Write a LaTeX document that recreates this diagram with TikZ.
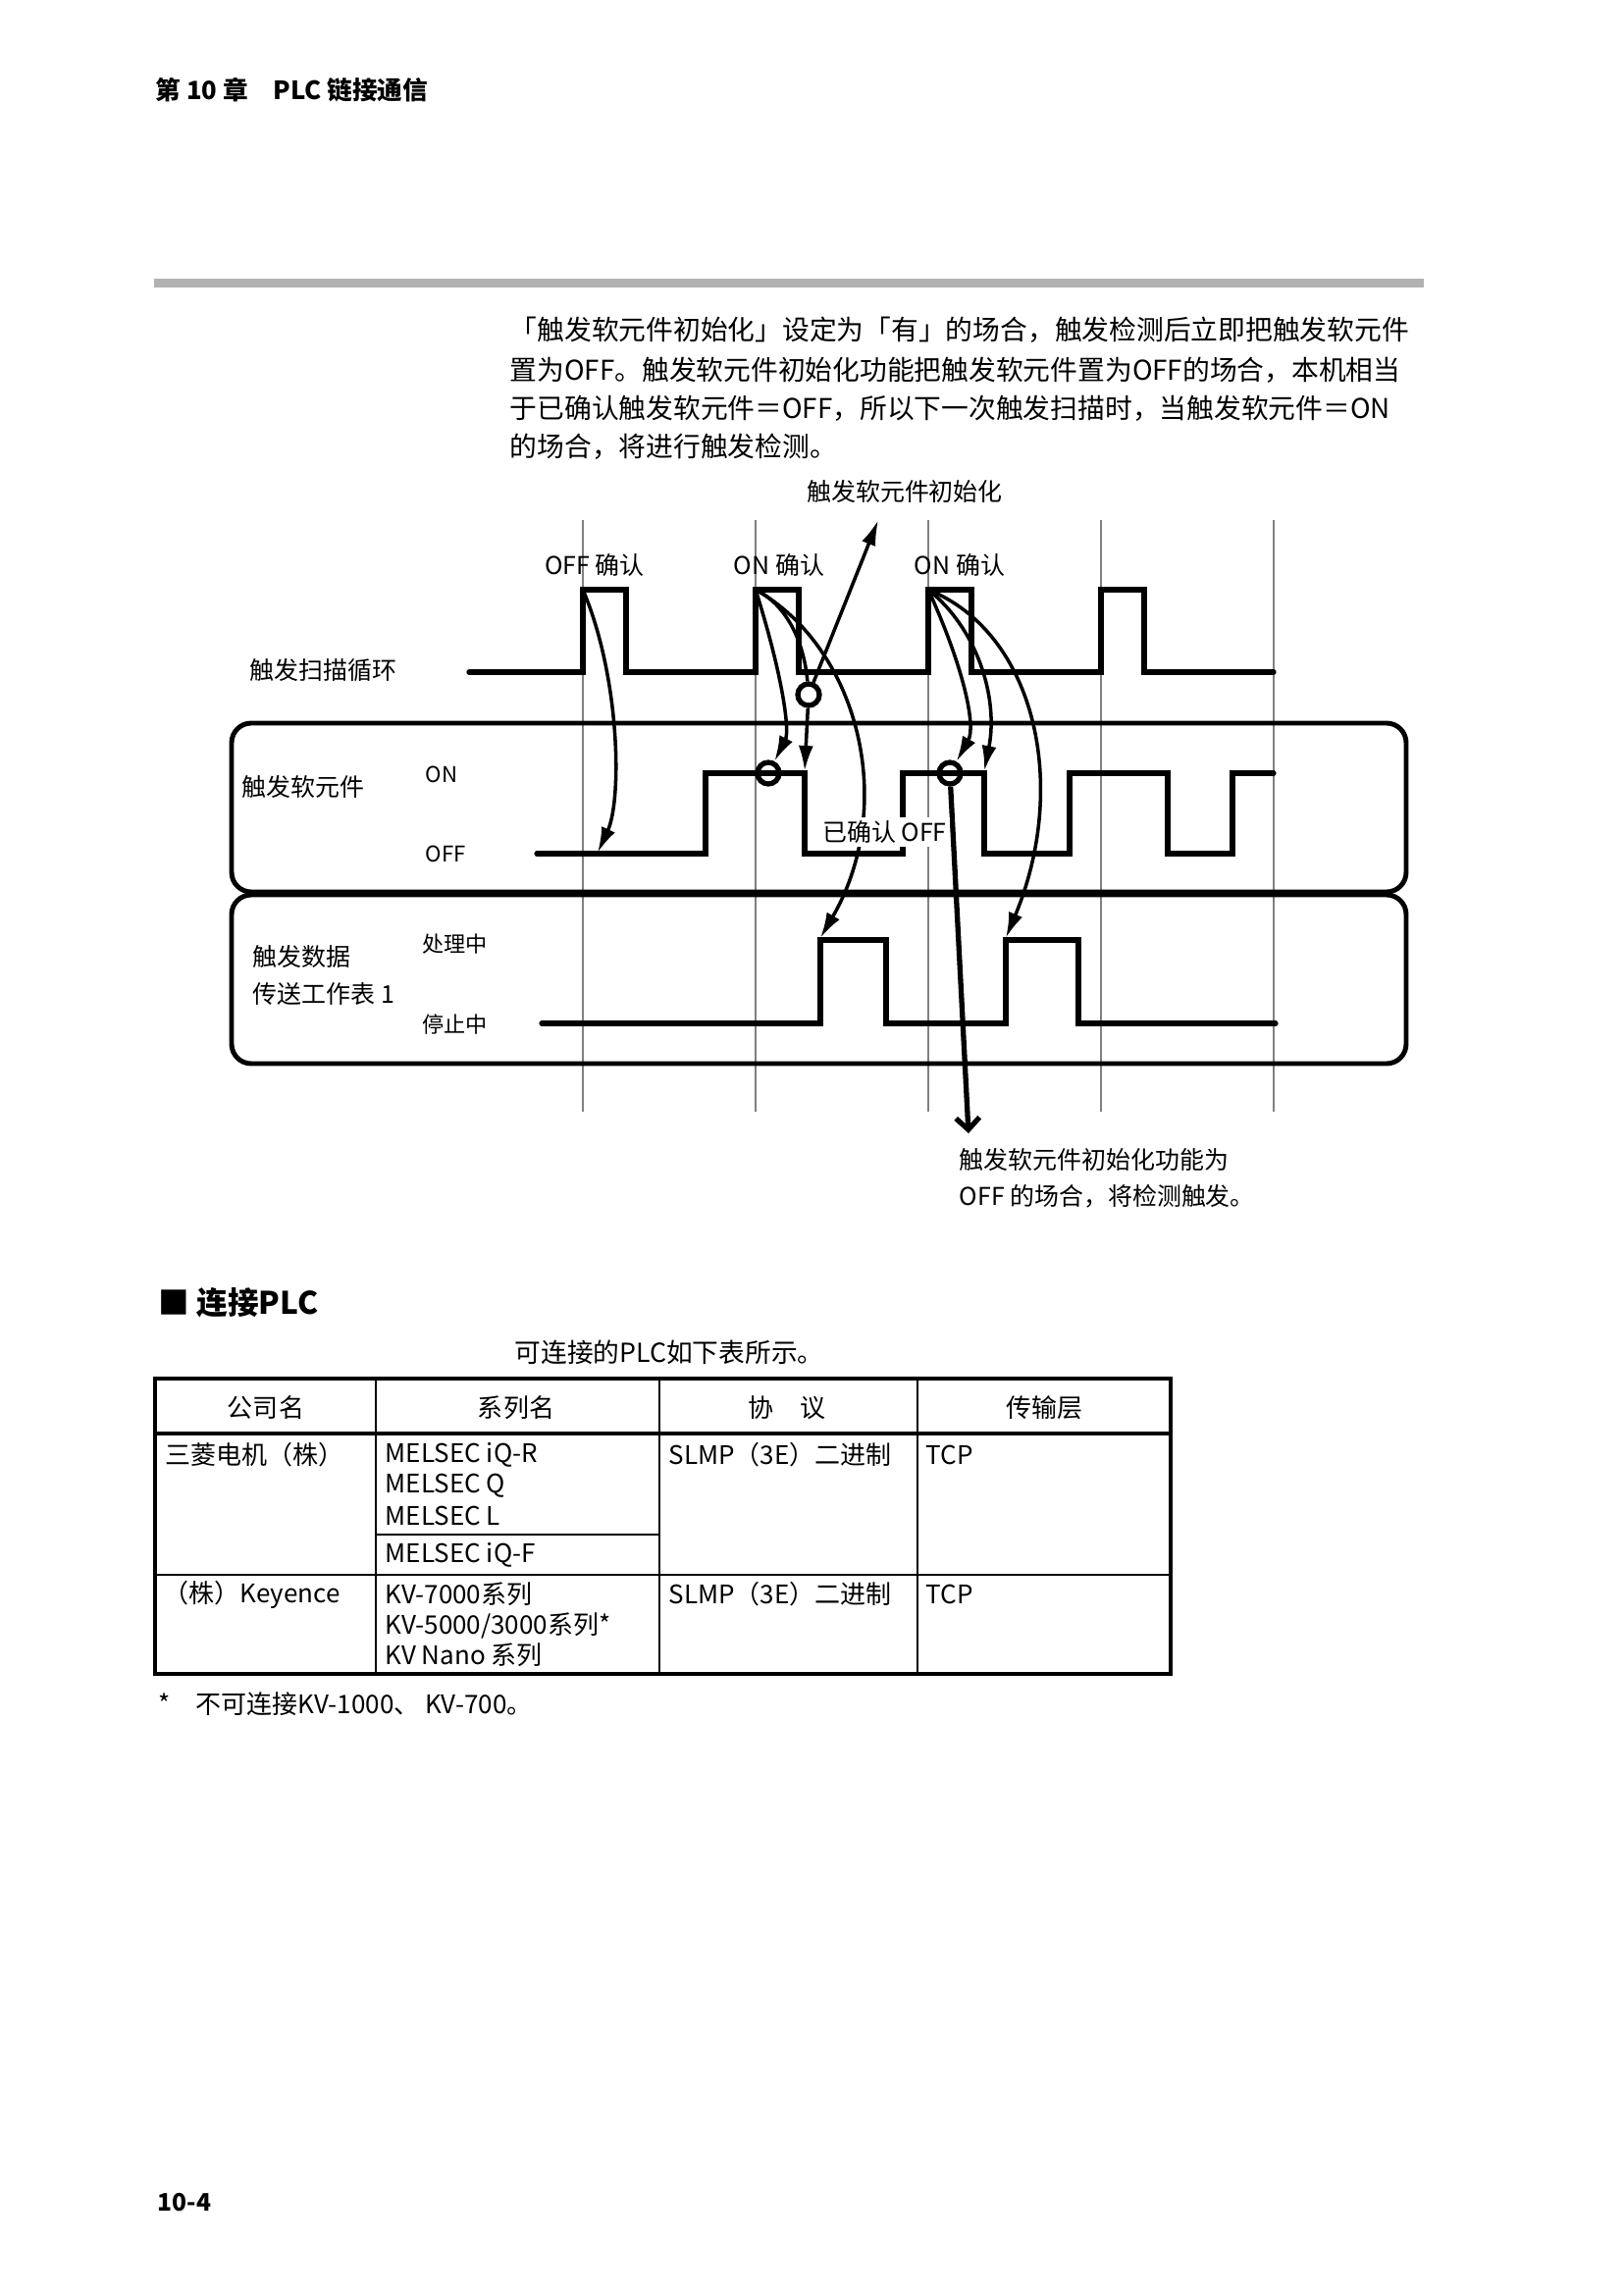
\documentclass[tikz,border=0pt]{standalone}
\usepackage{fontspec}
\setmainfont{Noto Sans CJK SC}
\usepackage{tikz}
\usetikzlibrary{positioning,arrows.meta}

\tikzset{
  lbl/.style={inner sep=0pt, font=\fontsize{7.1}{8.5}\selectfont},
  levellbl/.style={inner sep=0pt, anchor=west, font=\fontsize{6.3}{7.5}\selectfont},
  txt/.style={inner sep=0pt, anchor=west, font=\fontsize{7.9}{10}\selectfont},
  cell/.style={inner sep=0pt, font=\fontsize{7.4}{8.5}\selectfont},
  sig/.style={line width=1.5pt, line cap=round},
  lanebox/.style={line width=1.4pt, rounded corners=2mm},
  gridln/.style={gray, line width=0.3pt},
  ringnode/.style={circle, draw, line width=1.5pt, minimum size=2.2mm, inner sep=0pt},
  curvearrow/.style={line width=1pt, -{Latex[length=2.6mm,width=1.5mm]}},
  droparrow/.style={line width=1.5pt, -{Straight Barb[length=1.2mm,width=2.4mm]}},
}

\begin{document}
\begin{tikzpicture}[x=0.1mm, y=-0.1mm]
  \useasboundingbox (0,0) rectangle (1654,2339);
  \fill[white] (0,0) rectangle (1654,2339);

  \node[anchor=west, inner sep=0pt, font=\fontsize{7.3}{8}\selectfont\bfseries] (chap) at (158,92) {第 10 章　PLC 链接通信};
  \fill[black!30] (157,284) rectangle (1451,293);

  \node[txt] (para1) at (519,336) {「触发软元件初始化」设定为「有」的场合，触发检测后立即把触发软元件};
  \node[txt] (para2) at (519,377) {置为OFF。触发软元件初始化功能把触发软元件置为OFF的场合，本机相当};
  \node[txt] (para3) at (519,416) {于已确认触发软元件＝OFF，所以下一次触发扫描时，当触发软元件＝ON};
  \node[txt] (para4) at (519,455) {的场合，将进行触发检测。};

  \draw[gridln] (594,530) -- (594,1133) (770,530) -- (770,1133) (946,530) -- (946,1133)
                (1122,530) -- (1122,1133) (1298,530) -- (1298,1133);

  \draw[lanebox] (236,737) rectangle (1433,909);
  \draw[lanebox] (236,912) rectangle (1433,1084);

  \draw[sig] (478,685) -- (594,685) -- (594,601) -- (638,601) -- (638,685) -- (770,685) -- (770,601)
     -- (814,601) -- (814,685) -- (946,685) -- (946,601) -- (990,601) -- (990,685) -- (1122,685)
     -- (1122,601) -- (1166,601) -- (1166,685) -- (1298,685);
  \draw[sig] (547,870) -- (719,870) -- (719,788) -- (820,788) -- (820,870) -- (920,870) -- (920,788)
     -- (1003,788) -- (1003,870) -- (1090,870) -- (1090,788) -- (1190,788) -- (1190,870)
     -- (1256,870) -- (1256,788) -- (1298,788);
  \draw[sig] (552,1043) -- (836,1043) -- (836,958) -- (903,958) -- (903,1043) -- (1025,1043)
     -- (1025,958) -- (1099,958) -- (1099,1043) -- (1300,1043);

  \node[lbl, anchor=west] (scanlbl) at (254,683) {触发扫描循环};
  \node[lbl, anchor=west] (devlbl) at (246,802) {触发软元件};
  \node[levellbl] (devon) at (433,789) {ON};
  \node[levellbl] (devoff) at (433,870) {OFF};
  \node[lbl, anchor=west] (dat1) at (257,975) {触发数据};
  \node[lbl, below=1.4mm of dat1.south west, anchor=north west] (dat2) {传送工作表 1};
  \node[levellbl] (busy) at (430,962) {处理中};
  \node[levellbl] (idle) at (430,1044) {停止中};
  \node[lbl] (chk0lbl) at (606,576) {OFF 确认};
  \node[lbl] (chk1lbl) at (794,576) {ON 确认};
  \node[lbl] (chk2lbl) at (978,576) {ON 确认};
  \node[lbl] (initlbl) at (922,501) {触发软元件初始化};
  \node[lbl, anchor=west] (note1) at (977,1182) {触发软元件初始化功能为};
  \node[lbl, anchor=west] (note2) at (977,1219) {OFF 的场合，将检测触发。};

  \coordinate (chk0) at (594,601);
  \coordinate (chk1) at (770,601);
  \coordinate (chk2) at (946,601);
  \coordinate (offhit) at (609,869);
  \coordinate (fall1) at (820,786);
  \coordinate (fall2) at (1003,786);
  \coordinate (proc1) at (836,956);
  \coordinate (proc2) at (1025,956);
  \coordinate (inittip) at (895,530);
  \coordinate (droptip) at (987,1155);
  \node[ringnode] (ringA) at (824,708) {};
  \node[ringnode] (ringB) at (783,788) {};
  \node[ringnode] (ringC) at (968,788) {};

  \draw[curvearrow] (chk0) .. controls (632,690) and (634,815) .. (offhit);
  \draw[curvearrow] (chk1) .. controls (798,690) and (805,745) .. (ringB);
  \draw[line width=1pt] (chk1) .. controls (805,618) and (820,660) .. (ringA);
  \draw[curvearrow] (ringA) -- (fall1);
  \draw[curvearrow] (ringA) -- (inittip);
  \draw[curvearrow] (chk1) .. controls (875,660) and (915,820) .. (proc1);
  \draw[curvearrow] (chk2) .. controls (982,680) and (995,740) .. (ringC);
  \draw[curvearrow] (chk2) .. controls (995,640) and (1018,710) .. (fall2);
  \draw[curvearrow] (chk2) .. controls (1055,645) and (1090,800) .. (proc2);
  \draw[droparrow] (ringC) -- (droptip);
  \node[lbl, fill=white, inner sep=1pt, anchor=west] (confoff) at (834,848) {已确认 OFF};

  \node[anchor=west, inner sep=0pt, font=\fontsize{9}{10}\selectfont\bfseries] (sect) at (161,1328) {■ 连接PLC};
  \node[txt, font=\fontsize{7.6}{9}\selectfont] (intro) at (524,1378) {可连接的PLC如下表所示。};

  \draw[line width=1.4pt] (158,1405) rectangle (1193,1706);
  \draw[line width=1.1pt] (158,1461) -- (1193,1461);
  \draw[line width=0.6pt] (383,1405) -- (383,1706) (672,1405) -- (672,1706) (935,1405) -- (935,1706)
     (158,1605) -- (1193,1605) (383,1564) -- (672,1564);

  \node[cell] (hcomp) at (271,1435) {公司名};
  \node[cell] (hser) at (526,1435) {系列名};
  \node[cell] (hproto) at (802,1435) {协　议};
  \node[cell] (hlayer) at (1064,1435) {传输层};

  \node[cell, anchor=west] (mcomp) at (168,1483) {三菱电机（株）};
  \node[cell, anchor=west] (mser1) at (392,1483) {MELSEC iQ-R};
  \node[cell, anchor=west] (mser2) at (392,1514) {MELSEC Q};
  \node[cell, anchor=west] (mser3) at (392,1545) {MELSEC L};
  \node[cell, anchor=west] (mser4) at (392,1585) {MELSEC iQ-F};
  \node[cell, anchor=west] (mproto) at (681,1483) {SLMP（3E）二进制};
  \node[cell, anchor=west] (mlayer) at (943,1483) {TCP};

  \node[cell, anchor=west] (kcomp) at (166,1625) {（株）Keyence};
  \node[cell, anchor=west] (kser1) at (392,1625) {KV-7000系列};
  \node[cell, anchor=west] (kser2) at (392,1657) {KV-5000/3000系列*};
  \node[cell, anchor=west] (kser3) at (392,1687) {KV Nano 系列};
  \node[cell, anchor=west] (kproto) at (681,1625) {SLMP（3E）二进制};
  \node[cell, anchor=west] (klayer) at (943,1625) {TCP};

  \node[cell, anchor=west] (foot) at (161,1737) {*　不可连接KV-1000、 KV-700。};

  \node[anchor=west, inner sep=0pt, font=\fontsize{7}{8}\selectfont\bfseries] (pageno) at (160,2245) {10-4};
\end{tikzpicture}
\end{document}
